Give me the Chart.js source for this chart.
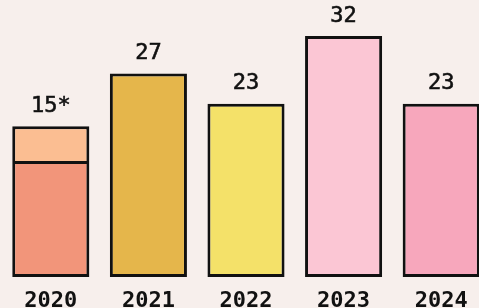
<!DOCTYPE html>
<html>
<head>
<meta charset="utf-8">
<script src="https://cdn.jsdelivr.net/npm/chart.js@4/dist/chart.umd.min.js"></script>
<style>
  html, body { margin: 0; padding: 0; background: #f7efec; overflow: hidden; }
  #wrap { width: 490px; height: 308px; position: relative; }
</style>
</head>
<body>
<div id="wrap"><canvas id="bars"></canvas></div>
<script>
// data
const years = ["2020", "2021", "2022", "2023", "2024"];
const mainValues = [15, 27, 23, 32, 23];
const extraValues = [5, null, null, null, null];
const valueLabels = ["15*", "27", "23", "32", "23"];

const mainColors = ["#f2957a", "#e5b64b", "#f4e169", "#fbc6d4", "#f7a7bc"];
const extraColors = ["#fbbe92", "#fbbe92", "#fbbe92", "#fbbe92", "#fbbe92"];

const topLabels = {
    id: 'topLabels',
    afterDatasetsDraw(chart)
    {
        const ctx = chart.ctx;
        ctx.save();
        ctx.font = "22px 'DejaVu Sans Mono'";
        ctx.fillStyle = "#111";
        ctx.strokeStyle = "#111";
        ctx.lineWidth = 0.6;
        ctx.textAlign = "center";
        ctx.textBaseline = "middle";
        for(let i=0; i<years.length; i++)
        {
            let el = chart.getDatasetMeta(0).data[i];
            if(extraValues[i] !== null)
            {
                el = chart.getDatasetMeta(1).data[i];
            }
            ctx.fillText(valueLabels[i], el.x, el.y - 20);
            ctx.strokeText(valueLabels[i], el.x, el.y - 20);
        }
        ctx.restore();
    }
};

const ctx = document.getElementById("bars").getContext('2d');
new Chart(ctx, {
    type: 'bar',
    data: {
        labels: years,
        datasets: [
            {
                data: mainValues,
                backgroundColor: mainColors,
                borderColor: "#111",
                borderWidth: 3,
                borderSkipped: (c) => extraValues[c.dataIndex] !== null ? 'top' : false,
                categoryPercentage: 1,
                barPercentage: 0.79
            },
            {
                data: extraValues,
                backgroundColor: extraColors,
                borderColor: "#111",
                borderWidth: 3,
                borderSkipped: false,
                categoryPercentage: 1,
                barPercentage: 0.79
            }
        ]
    },
    options: {
        responsive: true,
        maintainAspectRatio: false,
        animation: false,
        layout: { padding: { left: 2, top: 0, right: 0, bottom: 0 } },
        plugins: {
            legend: { display: false },
            tooltip: { enabled: false }
        },
        scales: {
            x: {
                stacked: true,
                grid: { display: false, drawTicks: false },
                border: { display: false },
                ticks: {
                    color: "#111",
                    padding: 11,
                    font: { family: "'DejaVu Sans Mono'", size: 22, weight: 'bold' }
                },
                afterFit(scale) { scale.height = 31; }
            },
            y: {
                stacked: true,
                display: false,
                min: 0,
                max: 36.77
            }
        }
    },
    plugins: [topLabels]
});
</script>
</body>
</html>
